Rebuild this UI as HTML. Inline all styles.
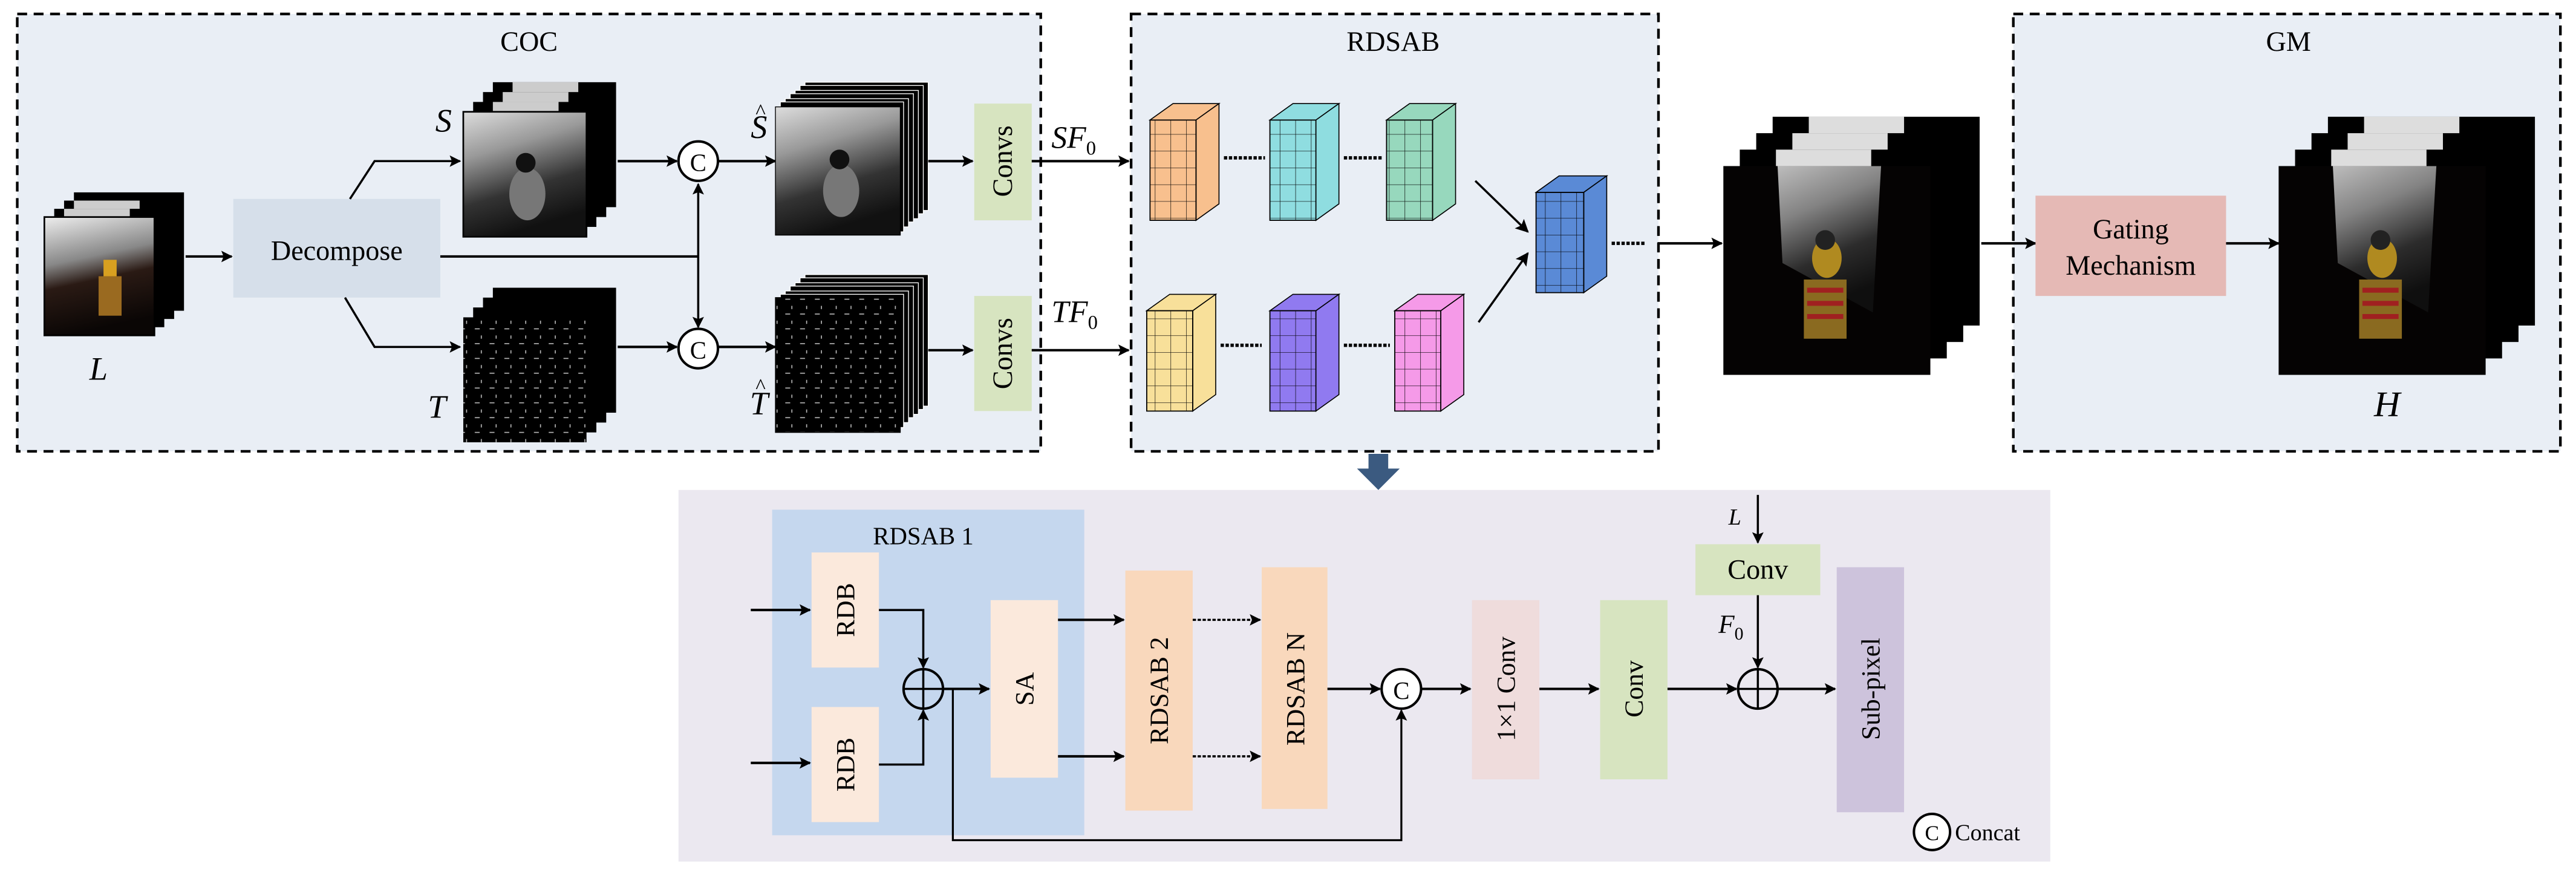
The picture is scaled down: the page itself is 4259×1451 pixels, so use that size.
<!DOCTYPE html>
<html><head><meta charset="utf-8"><style>
html,body{margin:0;padding:0;background:#fff;}
svg{display:block;}
text{font-family:"Liberation Serif",serif;fill:#000;}
</style></head><body>
<svg width="4259" height="1451" viewBox="0 0 1568 534" preserveAspectRatio="none" xmlns="http://www.w3.org/2000/svg">
<defs>
<marker id="ah" viewBox="0 0 10 10" refX="9" refY="5" markerWidth="8" markerHeight="7" orient="auto" markerUnits="userSpaceOnUse"><path d="M0,0 L10,5 L0,10 L2,5 z" fill="#000"/></marker>
<marker id="ahs" viewBox="0 0 10 10" refX="9" refY="5" markerWidth="9" markerHeight="8" orient="auto" markerUnits="userSpaceOnUse"><path d="M0,0 L10,5 L0,10 L2,5 z" fill="#000"/></marker>
<linearGradient id="gS" x1="0" y1="0" x2="0.3" y2="1"><stop offset="0" stop-color="#ddd"/><stop offset="0.35" stop-color="#999"/><stop offset="0.7" stop-color="#333"/><stop offset="1" stop-color="#111"/></linearGradient>
<linearGradient id="gL" x1="0" y1="0" x2="0.2" y2="1"><stop offset="0" stop-color="#eee"/><stop offset="0.4" stop-color="#888"/><stop offset="0.6" stop-color="#2a1a14"/><stop offset="1" stop-color="#0a0605"/></linearGradient>
<pattern id="tex" width="9" height="9" patternUnits="userSpaceOnUse"><rect width="9" height="9" fill="#000"/><path d="M1,2 h3 M5,6 v2" stroke="#bbb" stroke-width="0.6"/></pattern>
<pattern id="grid" width="9.5" height="10.2" patternUnits="userSpaceOnUse"><path d="M0,0 H9.5 M0,0 V10.2" stroke="#000" stroke-width="0.5" fill="none"/></pattern>
</defs>

<rect x="10.5" y="8.5" width="623" height="266" fill="#e9eef5" stroke="#000" stroke-width="1.6" stroke-dasharray="6,4"/>
<rect x="688.5" y="8.5" width="321" height="266" fill="#e9eef5" stroke="#000" stroke-width="1.6" stroke-dasharray="6,4"/>
<rect x="1225.5" y="8.5" width="333" height="266" fill="#e9eef5" stroke="#000" stroke-width="1.6" stroke-dasharray="6,4"/>
<text x="322" y="31" font-size="17" text-anchor="middle">COC</text>
<text x="848" y="31" font-size="17" text-anchor="middle">RDSAB</text>
<text x="1393" y="31" font-size="17" text-anchor="middle">GM</text>

<g>
<rect x="45" y="117" width="67" height="72" fill="#000"/>
<rect x="39" y="122" width="67" height="72" fill="#000"/><rect x="45" y="122" width="40" height="20" fill="#ccc"/>
<rect x="33" y="127" width="67" height="72" fill="#000"/><rect x="39" y="127" width="40" height="20" fill="#ccc"/>
<rect x="27" y="132" width="67" height="72" fill="url(#gL)" stroke="#000"/>
<rect x="60" y="168" width="14" height="24" fill="#9a6a20"/><rect x="63" y="158" width="8" height="10" fill="#d8a020"/>
</g>
<text x="60" y="231" font-size="20" font-style="italic" text-anchor="middle">L</text>
<line x1="113" y1="156" x2="141" y2="156" stroke="#000" stroke-width="1.5" marker-end="url(#ah)"/>
<rect x="142" y="121" width="126" height="60" fill="#d6dfea"/>
<text x="205" y="158" font-size="17" text-anchor="middle">Decompose</text>

<polyline points="213,121 228,98 280,98" fill="none" stroke="#000" stroke-width="1.3" marker-end="url(#ah)"/>
<polyline points="210,181 228,211 280,211" fill="none" stroke="#000" stroke-width="1.3" marker-end="url(#ah)"/>
<line x1="268" y1="156" x2="425" y2="156" stroke="#000" stroke-width="1.5"/>
<line x1="425" y1="156" x2="425" y2="112" stroke="#000" stroke-width="1.3" marker-end="url(#ah)"/>
<line x1="425" y1="156" x2="425" y2="199" stroke="#000" stroke-width="1.3" marker-end="url(#ah)"/>

<g>
<rect x="300" y="50" width="75" height="76" fill="#000"/><rect x="312" y="50" width="40" height="16" fill="#ccc"/>
<rect x="294" y="56" width="75" height="76" fill="#000"/><rect x="306" y="56" width="40" height="14" fill="#ccc"/>
<rect x="288" y="62" width="75" height="76" fill="#000"/><rect x="300" y="62" width="40" height="14" fill="#ccc"/>
<rect x="282" y="68" width="75" height="76" fill="url(#gS)" stroke="#000"/>
<ellipse cx="321" cy="118" rx="11" ry="16" fill="#777"/><circle cx="320" cy="99" r="6" fill="#111"/>
</g>
<text x="270" y="80" font-size="20" font-style="italic" text-anchor="middle">S</text>
<g>
<rect x="300" y="175" width="75" height="76" fill="#000"/>
<rect x="294" y="181" width="75" height="76" fill="#000"/>
<rect x="288" y="187" width="75" height="76" fill="#000"/>
<rect x="282" y="193" width="75" height="76" fill="url(#tex)"/>
</g>
<text x="266" y="254" font-size="20" font-style="italic" text-anchor="middle">T</text>

<line x1="376" y1="98" x2="412" y2="98" stroke="#000" stroke-width="1.5" marker-end="url(#ah)"/>
<line x1="376" y1="211" x2="412" y2="211" stroke="#000" stroke-width="1.5" marker-end="url(#ah)"/>
<circle cx="425" cy="98" r="12" fill="#fff" stroke="#000" stroke-width="1.5"/><text x="425" y="104" font-size="15" text-anchor="middle">C</text>
<circle cx="425" cy="212" r="12" fill="#fff" stroke="#000" stroke-width="1.5"/><text x="425" y="218" font-size="15" text-anchor="middle">C</text>
<line x1="437" y1="98" x2="472" y2="98" stroke="#000" stroke-width="1.5" marker-end="url(#ah)"/>
<line x1="437" y1="211" x2="472" y2="211" stroke="#000" stroke-width="1.5" marker-end="url(#ah)"/>

<g stroke="#fff" stroke-width="0.5">
<rect x="490" y="50" width="75" height="78" fill="#000"/>
<rect x="487" y="52" width="75" height="78" fill="#000"/>
<rect x="484" y="55" width="75" height="78" fill="#000"/>
<rect x="481" y="57" width="75" height="78" fill="#000"/>
<rect x="478" y="60" width="75" height="78" fill="#000"/>
<rect x="475" y="62" width="75" height="79" fill="#000"/>
<rect x="472" y="65" width="76" height="78" fill="url(#gS)" stroke="#000"/>
</g>
<ellipse cx="512" cy="116" rx="11" ry="16" fill="#777"/><circle cx="511" cy="97" r="6" fill="#111"/>
<text x="462" y="84" font-size="20" font-style="italic" text-anchor="middle">S</text><text x="463" y="72" font-size="13" text-anchor="middle">^</text>
<g stroke="#fff" stroke-width="0.5">
<rect x="490" y="167" width="75" height="80" fill="#000"/>
<rect x="487" y="169" width="75" height="80" fill="#000"/>
<rect x="484" y="172" width="75" height="80" fill="#000"/>
<rect x="481" y="174" width="75" height="80" fill="#000"/>
<rect x="478" y="177" width="75" height="80" fill="#000"/>
<rect x="475" y="179" width="75" height="81" fill="#000"/>
<rect x="472" y="181" width="76" height="82" fill="url(#tex)" stroke="#000"/>
</g>
<text x="462" y="252" font-size="20" font-style="italic" text-anchor="middle">T</text><text x="463" y="239" font-size="13" text-anchor="middle">^</text>

<line x1="565" y1="98" x2="592" y2="98" stroke="#000" stroke-width="1.5" marker-end="url(#ah)"/>
<line x1="565" y1="213" x2="592" y2="213" stroke="#000" stroke-width="1.5" marker-end="url(#ah)"/>
<rect x="593" y="63" width="35" height="71" fill="#d7e4c0"/>
<text transform="translate(616,98) rotate(-90)" font-size="17" text-anchor="middle">Convs</text>
<rect x="593" y="180" width="35" height="70" fill="#d7e4c0"/>
<text transform="translate(616,215) rotate(-90)" font-size="17" text-anchor="middle">Convs</text>
<line x1="628" y1="98" x2="687" y2="98" stroke="#000" stroke-width="1.5" marker-end="url(#ah)"/>
<line x1="628" y1="213" x2="687" y2="213" stroke="#000" stroke-width="1.5" marker-end="url(#ah)"/>
<text x="640" y="90" font-size="19" font-style="italic">SF<tspan font-size="12" font-style="normal" dy="4">0</tspan></text>
<text x="640" y="196" font-size="19" font-style="italic">TF<tspan font-size="12" font-style="normal" dy="4">0</tspan></text>

<g stroke="#000" stroke-width="0.6">
<polygon points="700,73 714,63 742,63 728,73" fill="#f8c08e"/><polygon points="728,73 742,63 742,124 728,134" fill="#f8c08e"/><rect x="700" y="73" width="28" height="61" fill="#f8c08e"/><rect x="700" y="73" width="28" height="61" fill="url(#grid)"/>
<polygon points="773,73 787,63 815,63 801,73" fill="#8fdde0"/><polygon points="801,73 815,63 815,124 801,134" fill="#8fdde0"/><rect x="773" y="73" width="28" height="61" fill="#8fdde0"/><rect x="773" y="73" width="28" height="61" fill="url(#grid)"/>
<polygon points="844,73 858,63 886,63 872,73" fill="#97d8bd"/><polygon points="872,73 886,63 886,124 872,134" fill="#97d8bd"/><rect x="844" y="73" width="28" height="61" fill="#97d8bd"/><rect x="844" y="73" width="28" height="61" fill="url(#grid)"/>
<polygon points="698,189 712,179 740,179 726,189" fill="#f8e09a"/><polygon points="726,189 740,179 740,240 726,250" fill="#f8e09a"/><rect x="698" y="189" width="28" height="61" fill="#f8e09a"/><rect x="698" y="189" width="28" height="61" fill="url(#grid)"/>
<polygon points="773,189 787,179 815,179 801,189" fill="#907af0"/><polygon points="801,189 815,179 815,240 801,250" fill="#907af0"/><rect x="773" y="189" width="28" height="61" fill="#907af0"/><rect x="773" y="189" width="28" height="61" fill="url(#grid)"/>
<polygon points="849,189 863,179 891,179 877,189" fill="#f59ae8"/><polygon points="877,189 891,179 891,240 877,250" fill="#f59ae8"/><rect x="849" y="189" width="28" height="61" fill="#f59ae8"/><rect x="849" y="189" width="28" height="61" fill="url(#grid)"/>
<polygon points="935,117 949,107 978,107 964,117" fill="#5a8ad6"/><polygon points="964,117 978,107 978,168 964,178" fill="#5a8ad6"/><rect x="935" y="117" width="29" height="61" fill="#5a8ad6"/><rect x="935" y="117" width="29" height="61" fill="url(#grid)"/>
</g>
<g stroke="#000" stroke-width="2" stroke-dasharray="2,1">
<line x1="745" y1="96" x2="770" y2="96"/><line x1="818" y1="96" x2="841" y2="96"/>
<line x1="743" y1="210" x2="768" y2="210"/><line x1="818" y1="210" x2="846" y2="210"/>
<line x1="981" y1="148" x2="1001" y2="148"/>
</g>
<line x1="898" y1="110" x2="930" y2="141" stroke="#000" stroke-width="1.3" marker-end="url(#ahs)"/>
<line x1="900" y1="196" x2="930" y2="154" stroke="#000" stroke-width="1.3" marker-end="url(#ahs)"/>
<line x1="1009" y1="148" x2="1048" y2="148" stroke="#000" stroke-width="1.5" marker-end="url(#ah)"/>

<g>
<rect x="1079" y="71" width="126" height="127" fill="#000"/><rect x="1101" y="71" width="58" height="20" fill="#ddd"/>
<rect x="1069" y="81" width="126" height="127" fill="#000"/><rect x="1091" y="81" width="58" height="20" fill="#ddd"/>
<rect x="1059" y="91" width="126" height="127" fill="#000"/><rect x="1081" y="91" width="58" height="20" fill="#ddd"/>
<rect x="1049" y="101" width="126" height="127" fill="#050303"/>
<polygon points="1082,101 1145,101 1140,190 1085,160" fill="url(#gS)" opacity="0.85"/>
<rect x="1098" y="170" width="26" height="36" fill="#8a6a20"/><rect x="1100" y="175" width="22" height="3" fill="#a02020"/><rect x="1100" y="183" width="22" height="3" fill="#a02020"/><rect x="1100" y="191" width="22" height="3" fill="#a02020"/>
<ellipse cx="1112" cy="157" rx="9" ry="12" fill="#b08a20"/><circle cx="1111" cy="146" r="6" fill="#222"/>
</g>
<line x1="1206" y1="148" x2="1239" y2="148" stroke="#000" stroke-width="1.5" marker-end="url(#ah)"/>
<rect x="1239" y="119" width="116" height="61" fill="#e5b9b5"/>
<text x="1297" y="145" font-size="17" text-anchor="middle">Gating</text>
<text x="1297" y="167" font-size="17" text-anchor="middle">Mechanism</text>
<line x1="1355" y1="148" x2="1387" y2="148" stroke="#000" stroke-width="1.5" marker-end="url(#ah)"/>
<g>
<rect x="1417" y="71" width="126" height="127" fill="#000"/><rect x="1439" y="71" width="58" height="20" fill="#ddd"/>
<rect x="1407" y="81" width="126" height="127" fill="#000"/><rect x="1429" y="81" width="58" height="20" fill="#ddd"/>
<rect x="1397" y="91" width="126" height="127" fill="#000"/><rect x="1419" y="91" width="58" height="20" fill="#ddd"/>
<rect x="1387" y="101" width="126" height="127" fill="#050303"/>
<polygon points="1420,101 1483,101 1478,190 1423,160" fill="url(#gS)" opacity="0.85"/>
<rect x="1436" y="170" width="26" height="36" fill="#8a6a20"/><rect x="1438" y="175" width="22" height="3" fill="#a02020"/><rect x="1438" y="183" width="22" height="3" fill="#a02020"/><rect x="1438" y="191" width="22" height="3" fill="#a02020"/>
<ellipse cx="1450" cy="157" rx="9" ry="12" fill="#b08a20"/><circle cx="1449" cy="146" r="6" fill="#222"/>
</g>
<text x="1453" y="253" font-size="22" font-style="italic" text-anchor="middle">H</text>

<polygon points="833,276 845,276 845,285 852,285 839,298 826,285 833,285" fill="#3b5a80"/>

<rect x="413" y="298" width="835" height="226" fill="#ebe8f0"/>
<rect x="470" y="310" width="190" height="198" fill="#c5d7ee"/>
<text x="562" y="331" font-size="15" text-anchor="middle">RDSAB 1</text>
<rect x="494" y="336" width="41" height="70" fill="#fbe9dc"/>
<text transform="translate(520,371) rotate(-90)" font-size="16" text-anchor="middle">RDB</text>
<rect x="494" y="430" width="41" height="70" fill="#fbe9dc"/>
<text transform="translate(520,465) rotate(-90)" font-size="16" text-anchor="middle">RDB</text>
<line x1="457" y1="371" x2="493" y2="371" stroke="#000" stroke-width="1.5" marker-end="url(#ah)"/>
<line x1="457" y1="464" x2="493" y2="464" stroke="#000" stroke-width="1.5" marker-end="url(#ah)"/>
<polyline points="535,371 562,371 562,406" fill="none" stroke="#000" stroke-width="1.3" marker-end="url(#ah)"/>
<polyline points="535,465 562,465 562,432" fill="none" stroke="#000" stroke-width="1.3" marker-end="url(#ah)"/>
<circle cx="562" cy="419" r="12" fill="none" stroke="#000" stroke-width="1.5"/>
<line x1="550" y1="419" x2="574" y2="419" stroke="#000" stroke-width="1.3"/><line x1="562" y1="407" x2="562" y2="431" stroke="#000" stroke-width="1.3"/>
<line x1="574" y1="419" x2="602" y2="419" stroke="#000" stroke-width="1.5" marker-end="url(#ah)"/>
<rect x="603" y="365" width="41" height="108" fill="#fbe9dc"/>
<text transform="translate(629,419) rotate(-90)" font-size="16" text-anchor="middle">SA</text>
<line x1="644" y1="377" x2="684" y2="377" stroke="#000" stroke-width="1.5" marker-end="url(#ah)"/>
<line x1="644" y1="460" x2="684" y2="460" stroke="#000" stroke-width="1.5" marker-end="url(#ah)"/>
<rect x="685" y="347" width="41" height="146" fill="#f9d8bc"/>
<text transform="translate(711,420) rotate(-90)" font-size="16" text-anchor="middle">RDSAB  2</text>
<rect x="768" y="345" width="40" height="147" fill="#f9d8bc"/>
<text transform="translate(794,419) rotate(-90)" font-size="16" text-anchor="middle">RDSAB  N</text>
<line x1="726" y1="377" x2="767" y2="377" stroke="#000" stroke-width="1.3" stroke-dasharray="2,1" marker-end="url(#ah)"/>
<line x1="726" y1="460" x2="767" y2="460" stroke="#000" stroke-width="1.3" stroke-dasharray="2,1" marker-end="url(#ah)"/>
<line x1="808" y1="419" x2="840" y2="419" stroke="#000" stroke-width="1.5" marker-end="url(#ah)"/>
<polyline points="580,419 580,511 853,511 853,432" fill="none" stroke="#000" stroke-width="1.2" marker-end="url(#ah)"/>
<circle cx="853" cy="419" r="12" fill="#fff" stroke="#000" stroke-width="1.5"/><text x="853" y="425" font-size="15" text-anchor="middle">C</text>
<line x1="865" y1="419" x2="895" y2="419" stroke="#000" stroke-width="1.5" marker-end="url(#ah)"/>
<rect x="896" y="365" width="41" height="109" fill="#efdcdc"/>
<text transform="translate(922,419) rotate(-90)" font-size="16" text-anchor="middle">1×1 Conv</text>
<line x1="937" y1="419" x2="973" y2="419" stroke="#000" stroke-width="1.5" marker-end="url(#ah)"/>
<rect x="974" y="365" width="41" height="109" fill="#d7e4c0"/>
<text transform="translate(1000,419) rotate(-90)" font-size="16" text-anchor="middle">Conv</text>
<line x1="1015" y1="419" x2="1057" y2="419" stroke="#000" stroke-width="1.5" marker-end="url(#ah)"/>
<text x="1056" y="319" font-size="14" font-style="italic" text-anchor="middle">L</text>
<line x1="1070" y1="301" x2="1070" y2="330" stroke="#000" stroke-width="1.3" marker-end="url(#ah)"/>
<rect x="1032" y="331" width="76" height="31" fill="#d7e4c0"/>
<text x="1070" y="352" font-size="17" text-anchor="middle">Conv</text>
<line x1="1070" y1="362" x2="1070" y2="406" stroke="#000" stroke-width="1.3" marker-end="url(#ah)"/>
<text x="1046" y="385" font-size="16" font-style="italic">F<tspan font-size="11" font-style="normal" dy="4">0</tspan></text>
<circle cx="1070" cy="419" r="12" fill="none" stroke="#000" stroke-width="1.5"/>
<line x1="1058" y1="419" x2="1082" y2="419" stroke="#000" stroke-width="1.3"/><line x1="1070" y1="407" x2="1070" y2="431" stroke="#000" stroke-width="1.3"/>
<line x1="1082" y1="419" x2="1117" y2="419" stroke="#000" stroke-width="1.5" marker-end="url(#ah)"/>
<rect x="1118" y="345" width="41" height="149" fill="#cdc3dc"/>
<text transform="translate(1144,419) rotate(-90)" font-size="16" text-anchor="middle">Sub-pixel</text>
<circle cx="1176" cy="506" r="11" fill="#fff" stroke="#000" stroke-width="1.5"/><text x="1176" y="511" font-size="13" text-anchor="middle">C</text>
<text x="1190" y="511" font-size="14">Concat</text>
</svg>
</body></html>
